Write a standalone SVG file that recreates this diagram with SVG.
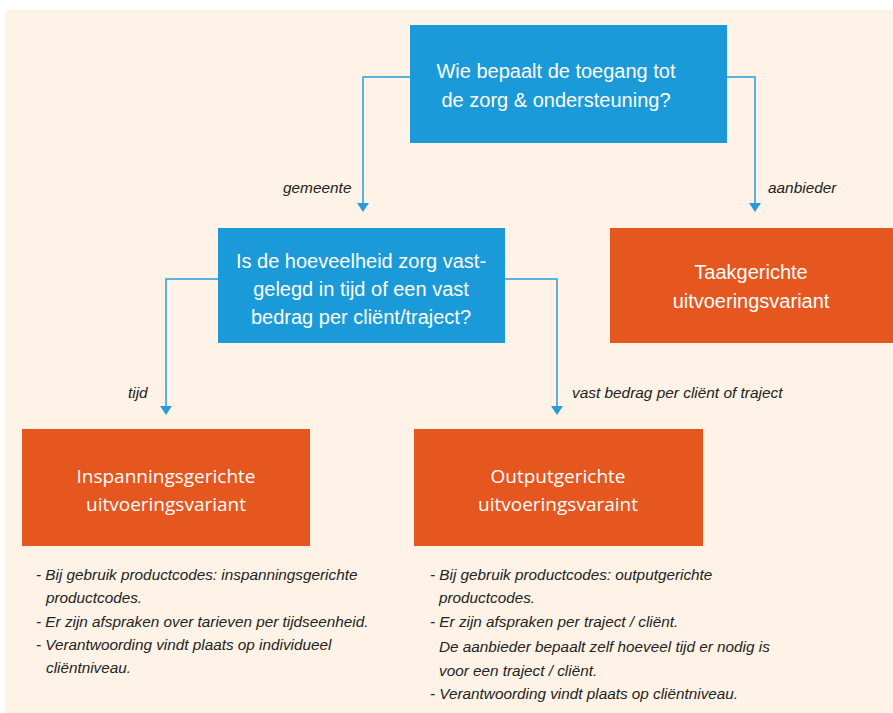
<svg xmlns="http://www.w3.org/2000/svg" width="893" height="713" viewBox="0 0 893 713">
<style>
.bg{fill:#FEF3E6}
.blue{fill:#1B9AD9}
.orange{fill:#E6561F}
.t{font-family:"Liberation Sans",Arial,sans-serif;font-size:20px;fill:#fff;text-anchor:middle}
.o{font-family:"Open Sans","Liberation Sans",sans-serif;font-size:19px;fill:#fff;text-anchor:middle}
.lbl{font-family:"Liberation Sans",Arial,sans-serif;font-size:15.4px;font-style:italic;fill:#222}
.b{font-family:"Liberation Sans",Arial,sans-serif;font-size:15.3px;font-style:italic;fill:#222}
.c{fill:none;stroke:#2A9BDB;stroke-width:1.5}
.ah{fill:#2A9BDB}
</style>
<rect x="0" y="0" width="893" height="713" fill="#fff"/>
<rect class="bg" x="5" y="10" width="888" height="703"/>
<g id="connectors">
<path class="c" d="M410,77 H363 V205"/>
<path class="c" d="M727,77 H755 V205"/>
<path class="c" d="M218,279 H166 V408"/>
<path class="c" d="M505,279 H557 V408"/>
<path class="ah" d="M357,203 L369,203 L363,212 Z"/>
<path class="ah" d="M749,203 L761,203 L755,212 Z"/>
<path class="ah" d="M160,406 L172,406 L166,415 Z"/>
<path class="ah" d="M551,406 L563,406 L557,415 Z"/>
<text class="lbl" x="283" y="193">gemeente</text>
<text class="lbl" x="768" y="193">aanbieder</text>
<text class="lbl" x="128" y="398">tijd</text>
<text class="lbl" x="572" y="398">vast bedrag per cliënt of traject</text>
</g>
<g id="q1">
<rect class="blue" x="410" y="25" width="317" height="118"/>
<text class="t" x="556" y="78">Wie bepaalt de toegang tot</text>
<text class="t" x="556" y="107">de zorg &amp; ondersteuning?</text>
</g>
<g id="q2">
<rect class="blue" x="218" y="228" width="287" height="115"/>
<text class="t" x="361" y="268">Is de hoeveelheid zorg vast-</text>
<text class="t" x="361" y="296">gelegd in tijd of een vast</text>
<text class="t" x="361" y="324">bedrag per cliënt/traject?</text>
</g>
<g id="taak">
<rect class="orange" x="610" y="228" width="283" height="115"/>
<text class="t" x="751" y="279">Taakgerichte</text>
<text class="t" x="751" y="308">uitvoeringsvariant</text>
</g>
<g id="inspanning">
<rect class="orange" x="22" y="429" width="288" height="117"/>
<text class="o" x="166" y="483">Inspanningsgerichte</text>
<text class="o" x="166" y="511">uitvoeringsvariant</text>
<text class="b" x="36" y="580">- Bij gebruik productcodes: inspanningsgerichte</text>
<text class="b" x="46" y="603">productcodes.</text>
<text class="b" x="36" y="627">- Er zijn afspraken over tarieven per tijdseenheid.</text>
<text class="b" x="36" y="650">- Verantwoording vindt plaats op individueel</text>
<text class="b" x="46" y="673">cliëntniveau.</text>
</g>
<g id="output">
<rect class="orange" x="414" y="429" width="289" height="117"/>
<text class="o" x="558" y="483">Outputgerichte</text>
<text class="o" x="558" y="511">uitvoeringsvaraint</text>
<text class="b" x="430" y="580">- Bij gebruik productcodes: outputgerichte</text>
<text class="b" x="439" y="603">productcodes.</text>
<text class="b" x="430" y="627">- Er zijn afspraken per traject / cliënt.</text>
<text class="b" x="439" y="652">De aanbieder bepaalt zelf hoeveel tijd er nodig is</text>
<text class="b" x="439" y="676">voor een traject / cliënt.</text>
<text class="b" x="430" y="699">- Verantwoording vindt plaats op cliëntniveau.</text>
</g>
</svg>
